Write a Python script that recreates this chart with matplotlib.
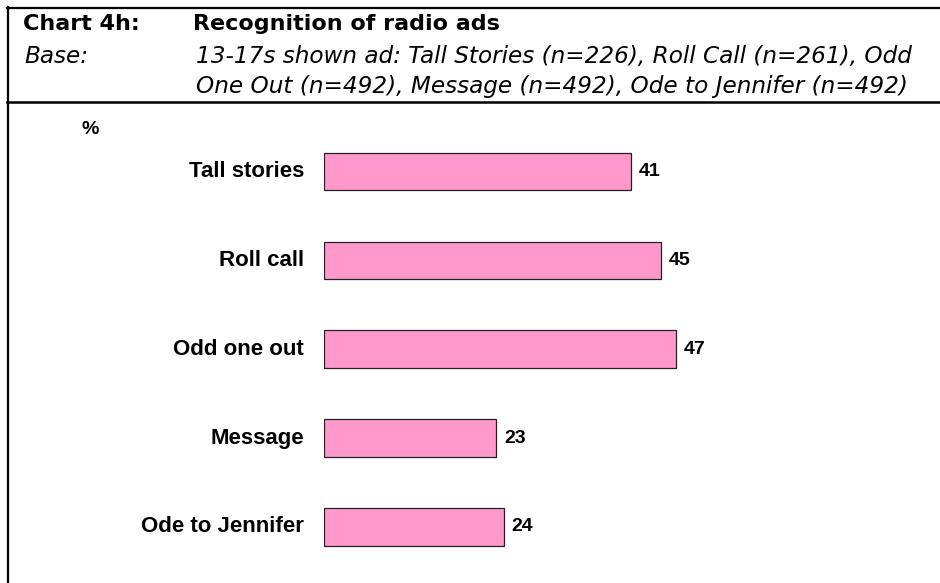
import matplotlib
matplotlib.use("Agg")
import matplotlib.pyplot as plt
from matplotlib.lines import Line2D

# Recognition of radio ads, 13-17s shown each ad (%)
ads = ["Tall stories", "Roll call", "Odd one out", "Message", "Ode to Jennifer"]
recognised = [41, 45, 47, 23, 24]

chart_no = "Chart 4h:"
title = "Recognition of radio ads"
base_label = "Base:"
base_lines = [
    "13-17s shown ad: Tall Stories (n=226), Roll Call (n=261), Odd",
    "One Out (n=492), Message (n=492), Ode to Jennifer (n=492)",
]

W, H = 940, 583
BAR_COLOUR = "#FF99CC"
LABEL_FONT = "Liberation Sans"
HEAD_FONT = "DejaVu Sans"


def fx(px):
    return px / W


def fy(py):
    return 1 - py / H


fig = plt.figure(figsize=(W / 100, H / 100), dpi=100)
fig.patch.set_facecolor("white")

# frame lines: top rule, header/chart divider, left edge
fig.add_artist(Line2D([fx(7), fx(W)], [fy(8), fy(8)], color="black", lw=1.6))
fig.add_artist(Line2D([fx(7), fx(W)], [fy(102), fy(102)], color="black", lw=1.8))
fig.add_artist(Line2D([fx(8), fx(8)], [fy(7), fy(H)], color="black", lw=1.6))

# header block
fig.text(fx(23), fy(30), chart_no, fontsize=16, fontweight="bold",
         family=HEAD_FONT, va="baseline", ha="left")
fig.text(fx(193), fy(30), title, fontsize=16, fontweight="bold",
         family=HEAD_FONT, va="baseline", ha="left")
fig.text(fx(24), fy(63), base_label, fontsize=16.7, style="italic",
         family=HEAD_FONT, va="baseline", ha="left")
for i, line in enumerate(base_lines):
    fig.text(fx(196), fy(63 + 30 * i), line, fontsize=16.7, style="italic",
             family=HEAD_FONT, va="baseline", ha="left")

fig.text(fx(82), fy(134), "%", fontsize=14, fontweight="bold",
         family=LABEL_FONT, va="baseline", ha="left")

# bar area
ax = fig.add_axes([fx(324), (H - 571.45) / H, 614 / W, 444.6 / H])
ypos = list(range(len(ads)))
ax.barh(ypos, recognised, height=0.42, color=BAR_COLOUR,
        edgecolor="#222222", linewidth=0.9)
ax.set_xlim(0, 82)
ax.set_ylim(len(ads) - 0.5, -0.5)
ax.axis("off")

for y, name, val in zip(ypos, ads, recognised):
    ax.annotate(name, (0, y), xytext=(-20, 0), textcoords="offset pixels",
                ha="right", va="center", fontsize=16, fontweight="bold",
                family=LABEL_FONT)
    ax.annotate(str(val), (val, y), xytext=(8, 0), textcoords="offset pixels",
                ha="left", va="center", fontsize=14, fontweight="bold",
                family=LABEL_FONT)

fig.savefig("out.png", dpi=100, facecolor="white")
